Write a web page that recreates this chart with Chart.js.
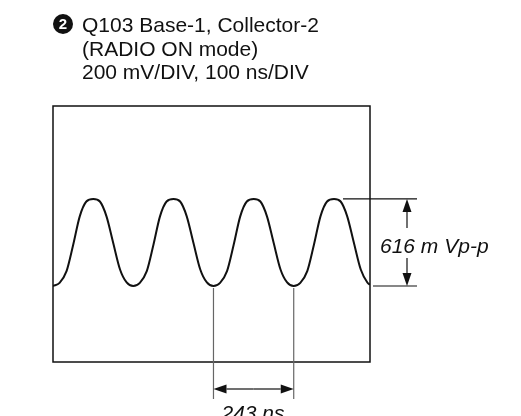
<!DOCTYPE html>
<html>
<head>
<meta charset="utf-8">
<script src="https://cdn.jsdelivr.net/npm/chart.js@4/dist/chart.umd.min.js"></script>
<style>
  html, body { margin: 0; padding: 0; background: #fff; }
  #wrap { position: relative; width: 521px; height: 416px; overflow: hidden; font-family: "Liberation Sans", Arial, sans-serif; color: #111; }
  #grafico { position: absolute; left: 0; top: 0; }
  .txt { position: absolute; white-space: nowrap; font-size: 21px; }
  #titulo { left: 82px; top: 13px; line-height: 23.5px; }
  #marca { position: absolute; left: 53px; top: 14px; width: 20px; height: 20px; border-radius: 50%; background: #111; color: #fff;
           font-weight: bold; font-size: 15px; line-height: 20px; text-align: center; }
  .med { font-style: italic; line-height: 21px; }
  #rotuloVpp { left: 380px; top: 235px; }
  #rotuloNs { left: 203px; top: 402px; width: 100px; text-align: center; }
</style>
</head>
<body>
<div id="wrap">
  <canvas id="grafico" width="521" height="416"></canvas>
  <div id="marca">2</div>
  <div id="titulo" class="txt">Q103 Base-1, Collector-2<br>(RADIO ON mode)<br>200 mV/DIV, 100 ns/DIV</div>
  <div id="rotuloVpp" class="txt med">616 m Vp-p</div>
  <div id="rotuloNs" class="txt med">243 ns</div>
</div>
<script>
const tempoNs = [
  0, 20, 41, 61, 81, 101, 122, 142, 162, 182, 203, 223,
  243, 263, 284, 304, 324, 344, 365, 385, 405, 425, 446, 466,
  486, 506, 527, 547, 567, 587, 608, 628, 648, 668, 689, 709,
  729, 749, 770, 790, 810, 830, 851, 871, 891, 911, 932, 952,
  960
];
const tensaoMv = [
  -308, -286, -203, -18, 185, 290, 308, 290, 185, 0, -191, -283,
  -308, -286, -203, -18, 185, 290, 308, 290, 185, 0, -191, -283,
  -308, -286, -203, -18, 185, 290, 308, 290, 185, 0, -191, -283,
  -308, -286, -203, -18, 185, 290, 308, 290, 185, 0, -191, -283,
  -300
];

// medidas indicadas no desenho
const vales = [486, 729];      // ns, vales usados na medida do periodo
const picoMv = 308;
const valeMv = -308;
const ultimoPico = 851;        // ns

const limitesX = [0, 960];
const limitesY = [-846, 966];

function seta(ctx, x1, y1, x2, y2) {
  // linha com ponta cheia em (x2, y2)
  const ang = Math.atan2(y2 - y1, x2 - x1);
  const comp = 13, larg = 4.5;
  ctx.beginPath();
  ctx.moveTo(x1, y1);
  ctx.lineTo(x2 - comp * Math.cos(ang), y2 - comp * Math.sin(ang));
  ctx.stroke();
  ctx.beginPath();
  ctx.moveTo(x2, y2);
  ctx.lineTo(x2 - comp * Math.cos(ang) - larg * Math.sin(ang), y2 - comp * Math.sin(ang) + larg * Math.cos(ang));
  ctx.lineTo(x2 - comp * Math.cos(ang) + larg * Math.sin(ang), y2 - comp * Math.sin(ang) - larg * Math.cos(ang));
  ctx.closePath();
  ctx.fill();
}

const anotacoes = {
  id: 'anotacoes',
  afterDraw(chart) {
    const ctx = chart.ctx;
    const area = chart.chartArea;
    const sx = chart.scales.x;
    const sy = chart.scales.y;
    ctx.save();
    ctx.strokeStyle = '#111';
    ctx.fillStyle = '#111';

    // moldura da tela
    ctx.lineWidth = 1.5;
    ctx.strokeRect(area.left, area.top, area.right - area.left, area.bottom - area.top);

    // medida pico a pico
    ctx.lineWidth = 1.2;
    const yPico = sy.getPixelForValue(picoMv);
    const yVale = sy.getPixelForValue(valeMv);
    const xFim = area.right + 47;
    const xSeta = area.right + 37;
    ctx.beginPath();
    ctx.moveTo(sx.getPixelForValue(ultimoPico) + 9, yPico);
    ctx.lineTo(xFim, yPico);
    ctx.moveTo(area.right + 3, yVale);
    ctx.lineTo(xFim, yVale);
    ctx.stroke();
    seta(ctx, xSeta, yPico + 29, xSeta, yPico);
    seta(ctx, xSeta, yVale - 28, xSeta, yVale);

    // medida do periodo
    const xa = sx.getPixelForValue(vales[0]);
    const xb = sx.getPixelForValue(vales[1]);
    ctx.strokeStyle = '#666';
    ctx.beginPath();
    ctx.moveTo(xa, yVale + 2);
    ctx.lineTo(xa, area.bottom + 37);
    ctx.moveTo(xb, yVale + 2);
    ctx.lineTo(xb, area.bottom + 37);
    ctx.stroke();
    ctx.strokeStyle = '#111';
    const ySeta = area.bottom + 27;
    const meio = (xa + xb) / 2;
    seta(ctx, meio, ySeta, xa, ySeta);
    seta(ctx, meio, ySeta, xb, ySeta);
    ctx.restore();
  }
};

new Chart(document.getElementById('grafico').getContext('2d'), {
  type: 'line',
  data: {
    datasets: [{
      data: tempoNs.map((t, i) => ({ x: t, y: tensaoMv[i] })),
      borderColor: '#111',
      borderWidth: 2,
      pointRadius: 0,
      cubicInterpolationMode: 'monotone',
      fill: false
    }]
  },
  options: {
    responsive: false,
    animation: false,
    layout: { padding: { left: 53, top: 106, right: 151, bottom: 54 } },
    plugins: { legend: { display: false }, tooltip: { enabled: false } },
    scales: {
      x: { type: 'linear', min: limitesX[0], max: limitesX[1], display: false },
      y: { min: limitesY[0], max: limitesY[1], display: false }
    }
  },
  plugins: [anotacoes]
});
</script>
</body>
</html>
